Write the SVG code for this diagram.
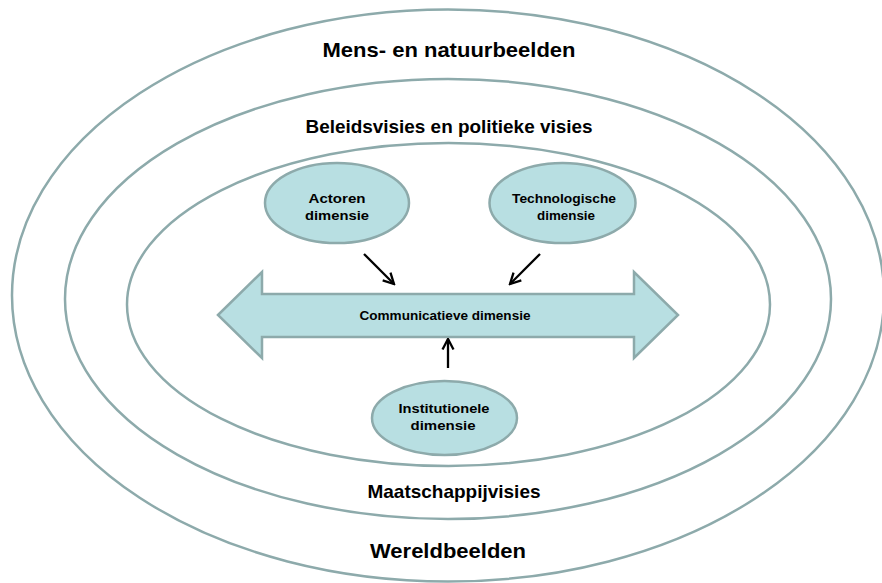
<svg xmlns="http://www.w3.org/2000/svg" width="882" height="583" viewBox="0 0 882 583">
<style>
.ring{fill:none;stroke:#8DAAAB;stroke-width:2.5}
.node{fill:#B8DFE2;stroke:#8DAAAB;stroke-width:2.5}
.t{font-family:"Liberation Sans",Arial,sans-serif;font-weight:bold;fill:#000;text-anchor:middle}
.big{font-size:21px}
.mid{font-size:18.5px}
.sm{font-size:12.5px}
.conn{stroke:#000;stroke-width:2.3;fill:none;marker-end:url(#ah)}
</style>
<defs>
<marker id="ah" viewBox="0 0 14 14" refX="12.5" refY="7" markerWidth="14" markerHeight="14" orient="auto" markerUnits="userSpaceOnUse">
<path d="M2,1.5 L12.5,7 L2,12.5" fill="none" stroke="#000" stroke-width="2.3"/>
</marker>
</defs>
<rect width="882" height="583" fill="#fff"/>
<g id="outer">
<ellipse class="ring" cx="448" cy="295.5" rx="436" ry="286"/>
<text class="t big" x="449" y="57" textLength="253" lengthAdjust="spacingAndGlyphs">Mens- en natuurbeelden</text>
<text class="t big" x="448" y="558" textLength="156" lengthAdjust="spacingAndGlyphs">Wereldbeelden</text>
</g>
<g id="middle">
<ellipse class="ring" cx="448" cy="299" rx="383" ry="220"/>
<text class="t mid" x="449" y="133" textLength="287" lengthAdjust="spacingAndGlyphs">Beleidsvisies en politieke visies</text>
<text class="t mid" x="454" y="498" textLength="173" lengthAdjust="spacingAndGlyphs">Maatschappijvisies</text>
</g>
<g id="inner">
<ellipse class="ring" cx="448.5" cy="304.5" rx="321.5" ry="161.5"/>
</g>
<g id="communicatieve">
<path class="node" d="M218,315 L262,272 L262,294 L634,294 L634,272 L678,315 L634,358 L634,337 L262,337 L262,358 Z" stroke-width="2"/>
<text class="t sm" x="445" y="319.5" textLength="171" lengthAdjust="spacingAndGlyphs">Communicatieve dimensie</text>
</g>
<g id="actoren">
<ellipse class="node" cx="337" cy="203" rx="72" ry="40"/>
<text class="t sm" x="337" y="202.5" textLength="57" lengthAdjust="spacingAndGlyphs">Actoren</text>
<text class="t sm" x="337" y="219.5" textLength="64" lengthAdjust="spacingAndGlyphs">dimensie</text>
</g>
<g id="technologische">
<ellipse class="node" cx="562.5" cy="203" rx="73" ry="40"/>
<text class="t sm" x="564" y="202.5" textLength="104" lengthAdjust="spacingAndGlyphs">Technologische</text>
<text class="t sm" x="566" y="219.5" textLength="58" lengthAdjust="spacingAndGlyphs">dimensie</text>
</g>
<g id="institutionele">
<ellipse class="node" cx="444.5" cy="418" rx="72.5" ry="37"/>
<text class="t sm" x="444" y="412.5" textLength="91" lengthAdjust="spacingAndGlyphs">Institutionele</text>
<text class="t sm" x="443" y="429.5" textLength="65" lengthAdjust="spacingAndGlyphs">dimensie</text>
</g>
<g id="connectors">
<line class="conn" x1="364" y1="254" x2="394" y2="284"/>
<line class="conn" x1="540" y1="254" x2="510" y2="284"/>
<line class="conn" x1="448" y1="368" x2="448" y2="339"/>
</g>
</svg>
